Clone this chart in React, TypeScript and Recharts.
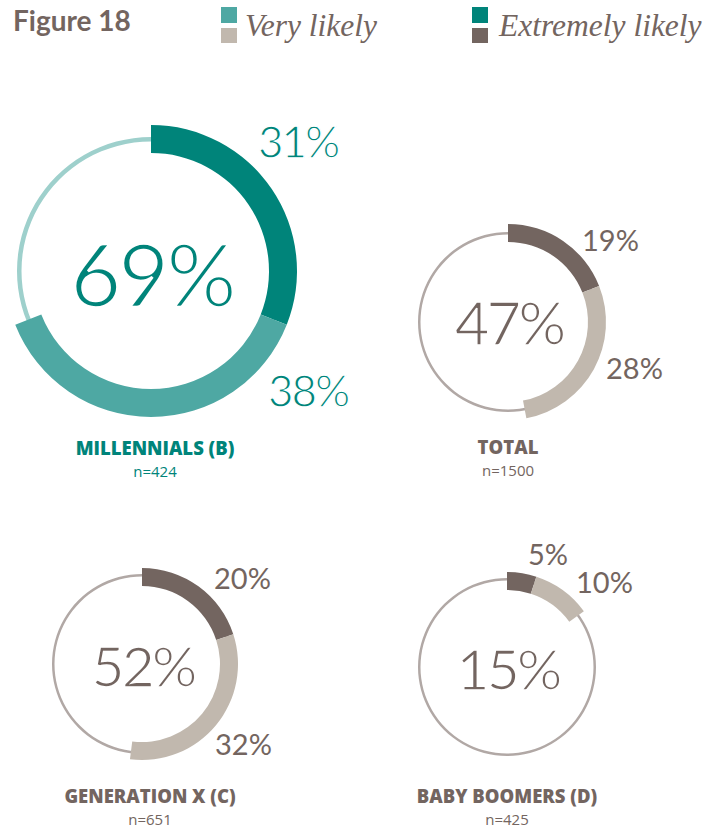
import { PieChart, Pie, Cell } from 'recharts'

// values
const groups = ['MILLENNIALS (B)', 'TOTAL', 'GENERATION X (C)', 'BABY BOOMERS (D)']
const sampleSizes = [424, 1500, 651, 425]
const extremelyLikely = [31, 19, 20, 5]
const veryLikely = [38, 28, 32, 10]
const legendLabels = ['Very likely', 'Extremely likely']

const W = 723
const H = 829

const TEAL = { extreme: '#00847A', very: '#4EA8A3', ring: '#9ED0CC', text: '#00847A' }
const GREY = { extreme: '#736560', very: '#C1B8AE', ring: '#B1A8A5', text: '#736560' }

type Layout = {
  cx: number; cy: number; inner: number; outer: number; ringIn: number; ringOut: number
  centerY: number; centerSize: number; centerThin: number
  extX: number; extY: number; veryX: number; veryY: number; pctSize: number; pctThin: number
  labelX: number; labelY: number; nY: number
}

const LAYOUT: Layout[] = [
  { cx: 151, cy: 271, inner: 118, outer: 146, ringIn: 129.5, ringOut: 134,
    centerY: 307, centerSize: 88, centerThin: 2.6, extX: 258, extY: 158, veryX: 268, veryY: 407, pctSize: 44, pctThin: 1.3,
    labelX: 155, labelY: 455, nY: 477 },
  { cx: 508, cy: 322, inner: 80, outer: 98, ringIn: 87.5, ringOut: 90,
    centerY: 345, centerSize: 60, centerThin: 1.7, extX: 582, extY: 251, veryX: 606, veryY: 379, pctSize: 29, pctThin: 0,
    labelX: 508, labelY: 454, nY: 476 },
  { cx: 142, cy: 664, inner: 78, outer: 96, ringIn: 87.5, ringOut: 90,
    centerY: 687, centerSize: 57, centerThin: 1.7, extX: 214, extY: 589, veryX: 215, veryY: 755, pctSize: 29, pctThin: 0,
    labelX: 150, labelY: 803, nY: 825 },
  { cx: 507, cy: 667, inner: 77, outer: 95, ringIn: 86.5, ringOut: 89,
    centerY: 690, centerSize: 57, centerThin: 1.7, extX: 528, extY: 565, veryX: 576, veryY: 593, pctSize: 29, pctThin: 0,
    labelX: 507, labelY: 803, nY: 825 },
]

const LATO = 'Lato, sans-serif'
const SANS = "'Open Sans', sans-serif"
const SERIF = "'Liberation Serif', serif"

export default function App() {
  return (
    <div style={{ position: 'absolute', left: 0, top: 0, width: W, height: H, background: '#fff' }}>
      <PieChart width={W} height={H} margin={{ top: 0, right: 0, bottom: 0, left: 0 }}>
        {groups.map((g, i) => {
          const l = LAYOUT[i]
          const pal = i === 0 ? TEAL : GREY
          return (
            <Pie
              key={g + '-ring'}
              data={[{ name: 'ring', value: 100 }]}
              dataKey="value"
              cx={l.cx}
              cy={l.cy}
              innerRadius={l.ringIn}
              outerRadius={l.ringOut}
              startAngle={90}
              endAngle={-270}
              stroke="none"
              fill={pal.ring}
              isAnimationActive={false}
            />
          )
        })}
        {groups.map((g, i) => {
          const l = LAYOUT[i]
          const pal = i === 0 ? TEAL : GREY
          const rest = 100 - extremelyLikely[i] - veryLikely[i]
          const data = [
            { name: 'Extremely likely', value: extremelyLikely[i] },
            { name: 'Very likely', value: veryLikely[i] },
            { name: 'rest', value: rest },
          ]
          return (
            <Pie
              key={g}
              data={data}
              dataKey="value"
              cx={l.cx}
              cy={l.cy}
              innerRadius={l.inner}
              outerRadius={l.outer}
              startAngle={90}
              endAngle={-270}
              stroke="none"
              isAnimationActive={false}
            >
              <Cell fill={pal.extreme} />
              <Cell fill={pal.very} />
              <Cell fill="transparent" />
            </Pie>
          )
        })}
      </PieChart>

      <svg width={W} height={H} style={{ position: 'absolute', left: 0, top: 0, pointerEvents: 'none' }}>
        <text x={13} y={31} fontFamily={LATO} fontWeight={700} fontSize={28} fill="#736560">Figure 18</text>

        <rect x={221} y={7} width={16} height={16} fill={TEAL.very} />
        <rect x={221} y={28} width={16} height={15} fill={GREY.very} />
        <text x={245} y={36} fontFamily={SERIF} fontStyle="italic" fontSize={31.5} fill="#736560">{legendLabels[0]}</text>

        <rect x={472} y={7} width={16} height={16} fill={TEAL.extreme} />
        <rect x={472} y={28} width={16} height={15} fill={GREY.extreme} />
        <text x={499} y={36} fontFamily={SERIF} fontStyle="italic" fontSize={31.5} fill="#736560">{legendLabels[1]}</text>

        {groups.map((g, i) => {
          const l = LAYOUT[i]
          const pal = i === 0 ? TEAL : GREY
          const total = extremelyLikely[i] + veryLikely[i]
          return (
            <g key={g + '-text'}>
              {/* white stroke thins Lato regular toward the light weight of the original */}
              <text x={l.cx + 1} y={l.centerY} textAnchor="middle" fontFamily={LATO} letterSpacing={-3}
                fontSize={l.centerSize} fill={pal.text} stroke="#fff" strokeWidth={l.centerThin}>{total}%</text>
              <text x={l.extX} y={l.extY} fontFamily={LATO} fontSize={l.pctSize} fill={pal.text}
                letterSpacing={l.pctThin ? -2 : 0} stroke="#fff" strokeWidth={l.pctThin}>{extremelyLikely[i]}%</text>
              <text x={l.veryX} y={l.veryY} fontFamily={LATO} fontSize={l.pctSize} fill={pal.text}
                letterSpacing={l.pctThin ? -2 : 0} stroke="#fff" strokeWidth={l.pctThin}>{veryLikely[i]}%</text>
              <text x={l.labelX} y={l.labelY} textAnchor="middle" fontFamily={SANS} fontWeight={800}
                fontSize={18.5} fill={pal.text}>{g}</text>
              <text x={l.labelX} y={l.nY} textAnchor="middle" fontFamily={SANS}
                fontSize={15} fill={pal.text}>n={sampleSizes[i]}</text>
            </g>
          )
        })}
      </svg>
    </div>
  )
}
